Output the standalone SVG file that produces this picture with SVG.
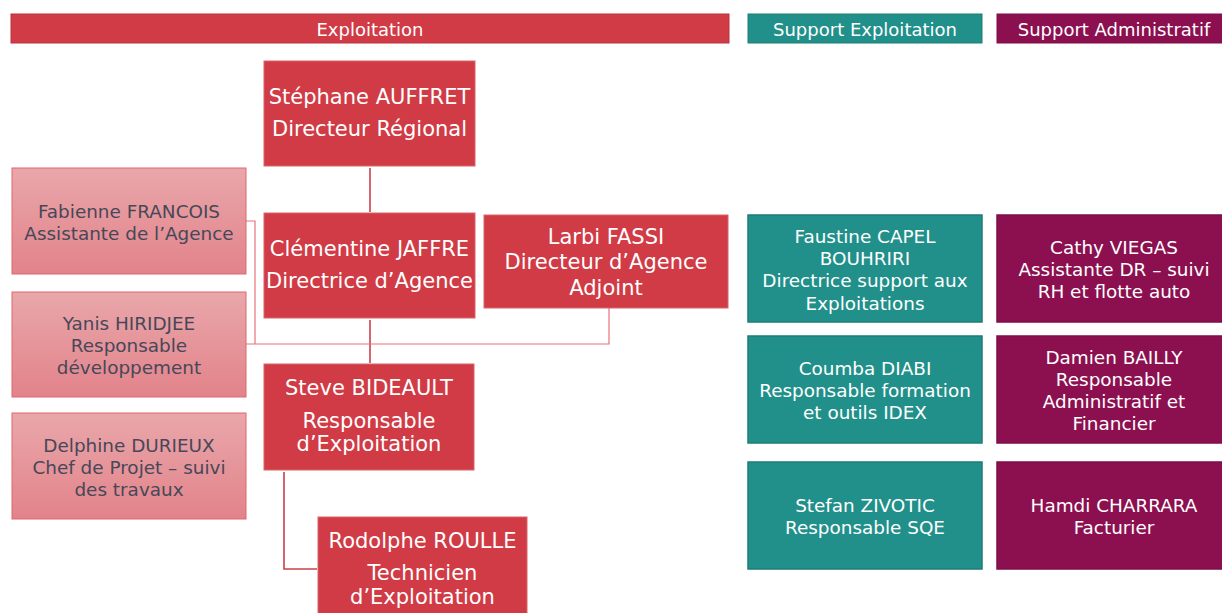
<svg xmlns="http://www.w3.org/2000/svg" width="1222" height="613" viewBox="0 0 1222 613">
<defs>
<linearGradient id="pinkGrad" x1="0" y1="0" x2="0" y2="1">
<stop offset="0" stop-color="#E9A7AA"/>
<stop offset="1" stop-color="#E2838A"/>
</linearGradient>
</defs>
<style>
text{font-family:"DejaVu Sans","Verdana",sans-serif;text-anchor:middle;dominant-baseline:central}
.hdr{font-size:18px;fill:#FFFFFF}
.red{fill:#D13B45;stroke:#D9646B;stroke-width:1}
.pink{fill:url(#pinkGrad);stroke:#E0666E;stroke-width:1}
.teal{fill:#21908A;stroke:#1E7C76;stroke-width:1.5}
.purple{fill:#8C1050;stroke:#7E0E48;stroke-width:1.5}
.tw{font-size:21px;fill:#FFFFFF}
.tp{font-size:18.4px;fill:#474759}
.ts{font-size:18.4px;fill:#FFFFFF}
.conn{fill:none;stroke:#E8727A;stroke-width:1.2}
.connd{fill:none;stroke:#C9404A;stroke-width:1.6}
</style>
<rect width="1222" height="613" fill="#FFFFFF"/>

<g id="header-exploitation">
<rect x="11" y="14" width="718" height="29" fill="#D13B45" stroke="#B8333C" stroke-width="1"/>
<text class="hdr" x="370" y="29">Exploitation</text>
</g>
<g id="header-support-exploitation">
<rect x="748" y="14" width="234" height="29" fill="#21908A" stroke="#1E7C76" stroke-width="1"/>
<text class="hdr" x="865" y="29">Support Exploitation</text>
</g>
<g id="header-support-administratif">
<rect x="997" y="14" width="234" height="29" fill="#8C1050" stroke="#7E0E48" stroke-width="1"/>
<text class="hdr" x="1114" y="29">Support Administratif</text>
</g>

<g id="connectors">
<line class="connd" x1="370" y1="168" x2="370" y2="212"/>
<line class="connd" x1="370" y1="320" x2="370" y2="363"/>
<polyline class="conn" points="246,221 255,221 255,344"/>
<polyline class="conn" points="609,308 609,344 246,344"/>
<polyline class="connd" points="284,472 284,569 317,569"/>
</g>

<g id="node-stephane">
<rect class="red" x="264" y="61" width="211" height="105"/>
<text class="tw" x="369.5" y="97">Stéphane AUFFRET</text>
<text class="tw" x="369.5" y="129">Directeur Régional</text>
</g>
<g id="node-clementine">
<rect class="red" x="264" y="213" width="211" height="105"/>
<text class="tw" x="369.5" y="249">Clémentine JAFFRE</text>
<text class="tw" x="369.5" y="281">Directrice d’Agence</text>
</g>
<g id="node-larbi">
<rect class="red" x="484" y="215" width="244" height="93"/>
<text class="tw" x="606" y="237">Larbi FASSI</text>
<text class="tw" x="606" y="262">Directeur d’Agence</text>
<text class="tw" x="606" y="288">Adjoint</text>
</g>
<g id="node-steve">
<rect class="red" x="264" y="364" width="210" height="106"/>
<text class="tw" x="369" y="388">Steve BIDEAULT</text>
<text class="tw" x="369" y="421">Responsable</text>
<text class="tw" x="369" y="444">d’Exploitation</text>
</g>
<g id="node-rodolphe">
<rect class="red" x="318" y="517" width="209" height="100"/>
<text class="tw" x="422.5" y="541">Rodolphe ROULLE</text>
<text class="tw" x="422.5" y="573">Technicien</text>
<text class="tw" x="422.5" y="597">d’Exploitation</text>
</g>

<g id="node-fabienne">
<rect class="pink" x="12" y="168" width="234" height="106"/>
<text class="tp" x="129" y="211">Fabienne FRANCOIS</text>
<text class="tp" x="129" y="233">Assistante de l’Agence</text>
</g>
<g id="node-yanis">
<rect class="pink" x="12" y="292" width="234" height="105"/>
<text class="tp" x="129" y="323">Yanis HIRIDJEE</text>
<text class="tp" x="129" y="345">Responsable</text>
<text class="tp" x="129" y="367">développement</text>
</g>
<g id="node-delphine">
<rect class="pink" x="12" y="413" width="234" height="106"/>
<text class="tp" x="129" y="445">Delphine DURIEUX</text>
<text class="tp" x="129" y="467">Chef de Projet – suivi</text>
<text class="tp" x="129" y="489">des travaux</text>
</g>

<g id="node-faustine">
<rect class="teal" x="748" y="215" width="234" height="107"/>
<text class="ts" x="865" y="236">Faustine CAPEL</text>
<text class="ts" x="865" y="258">BOUHRIRI</text>
<text class="ts" x="865" y="280">Directrice support aux</text>
<text class="ts" x="865" y="303">Exploitations</text>
</g>
<g id="node-coumba">
<rect class="teal" x="748" y="336" width="234" height="107"/>
<text class="ts" x="865" y="368">Coumba DIABI</text>
<text class="ts" x="865" y="390">Responsable formation</text>
<text class="ts" x="865" y="412">et outils IDEX</text>
</g>
<g id="node-stefan">
<rect class="teal" x="748" y="462" width="234" height="107"/>
<text class="ts" x="865" y="505">Stefan ZIVOTIC</text>
<text class="ts" x="865" y="527">Responsable SQE</text>
</g>

<g id="node-cathy">
<rect class="purple" x="997" y="215" width="234" height="107"/>
<text class="ts" x="1114" y="247">Cathy VIEGAS</text>
<text class="ts" x="1114" y="269">Assistante DR – suivi</text>
<text class="ts" x="1114" y="291">RH et flotte auto</text>
</g>
<g id="node-damien">
<rect class="purple" x="997" y="336" width="234" height="107"/>
<text class="ts" x="1114" y="357">Damien BAILLY</text>
<text class="ts" x="1114" y="379">Responsable</text>
<text class="ts" x="1114" y="401">Administratif et</text>
<text class="ts" x="1114" y="423">Financier</text>
</g>
<g id="node-hamdi">
<rect class="purple" x="997" y="462" width="234" height="107"/>
<text class="ts" x="1114" y="505">Hamdi CHARRARA</text>
<text class="ts" x="1114" y="527">Facturier</text>
</g>
</svg>
